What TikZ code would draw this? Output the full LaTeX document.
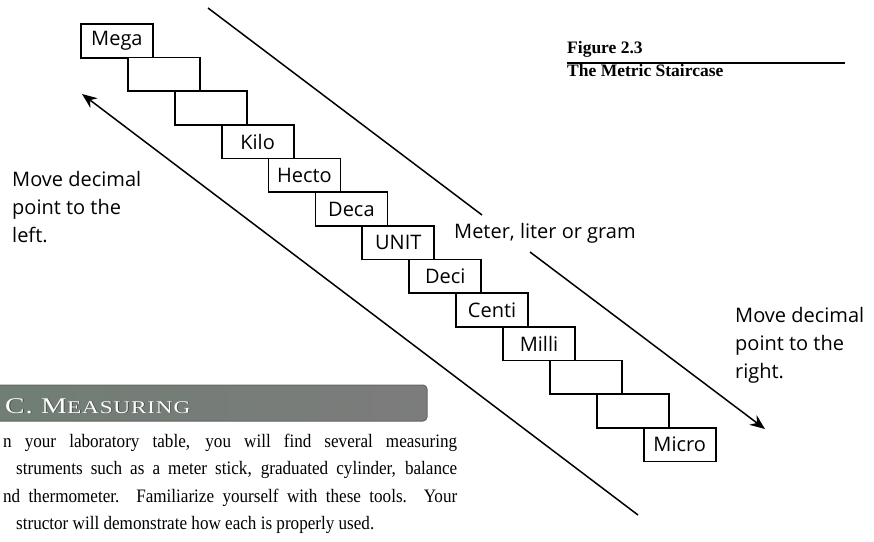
\documentclass[tikz,border=0pt]{standalone}
\usepackage{fontspec}
\newfontfamily\sansf{Open Sans}
\newfontfamily\seriff{Liberation Serif}
\newfontfamily\bodyf[FakeStretch=0.9]{Liberation Serif}
\newfontfamily\banf[FakeStretch=1.3,LetterSpace=4]{Liberation Serif}
\usetikzlibrary{arrows.meta}
\definecolor{banL}{RGB}{112,126,116}
\definecolor{banR}{RGB}{124,124,124}
\begin{document}
\begin{tikzpicture}[x=1pt,y=-1pt,
  stepbox/.style={draw=black, line width=1.8pt, minimum width=72pt, minimum height=33.7pt,
    inner sep=0pt, anchor=north west, fill=white, font=\sansf\fontsize{20}{20}\selectfont},
  guide/.style={line width=1.5pt, black},
  tip/.style={-{Stealth[length=15pt,width=12pt]}},
  lbl/.style={font=\sansf\fontsize{20}{28}\selectfont, align=left, inner sep=0pt},
  capt/.style={font=\seriff\bfseries\fontsize{17.5}{18}\selectfont, inner sep=0pt, anchor=base west}
]
\useasboundingbox (0,0) rectangle (874,541);

% staircase
\foreach \t [count=\i from 0] in {Mega,{},{},Kilo,Hecto,Deca,UNIT,Deci,Centi,Milli,{},{},Micro}
  \node[stepbox] (b\i) at ({80+46.9*\i},{23+33.65*\i}) {\t};

% upper line with gap for label
\coordinate (u1) at (208,8);
\coordinate (u2) at (482,215);
\coordinate (u3) at (530,252);
\coordinate (u4) at (765,429);
\draw[guide] (u1) -- (u2);
\draw[guide,tip] (u3) -- (u4);
\node[anchor=base west, inner sep=0pt, font=\sansf\fontsize{20}{20}\selectfont] (unitlbl) at (454,238) {Meter, liter or gram};

% lower line
\coordinate (l1) at (638,515);
\coordinate (l2) at (82,94);
\draw[guide,tip] (l1) -- (l2);

% side labels
\node[lbl, anchor=north west] (left) at (12,171.5) {Move decimal\\point to the\\left.};
\node[lbl, anchor=north west] (right) at (735,307.5) {Move decimal\\point to the\\right.};

% caption
\node[capt] (fig) at (567,53) {Figure 2.3};
\coordinate (r1) at (567,63);
\coordinate (r2) at (845,63);
\draw[line width=1.8pt] (r1) -- (r2);
\node[capt] (title) at (567,76) {The Metric Staircase};

% banner
\shade[left color=banL, right color=banR, draw=black!60, line width=1pt, rounded corners=4pt]
  (-6,385) rectangle (427,421);
\node[anchor=base west, inner sep=0pt, text=black!75] (banshadow) at (5.8,413.8)
  {\banf\fontsize{22.5}{22.5}\selectfont C. M\fontsize{18}{18}\selectfont EASURING};
\node[anchor=base west, inner sep=0pt, text=white] (ban) at (5,413)
  {\banf\fontsize{22.5}{22.5}\selectfont C. M\fontsize{18}{18}\selectfont EASURING};

% body text
\node[anchor=base west, inner sep=0pt, text width=454pt, align=justify,
  font=\bodyf\fontsize{19}{27.5}\selectfont] (body) at (3,447)
  {n your laboratory table, you will find several measuring\linebreak
   \hspace*{13pt}struments such as a meter stick, graduated cylinder, balance\linebreak
   nd thermometer.\ \ Familiarize yourself with these tools.\ \ Your\linebreak
   \hspace*{13pt}structor will demonstrate how each is properly used.};
\end{tikzpicture}
\end{document}
